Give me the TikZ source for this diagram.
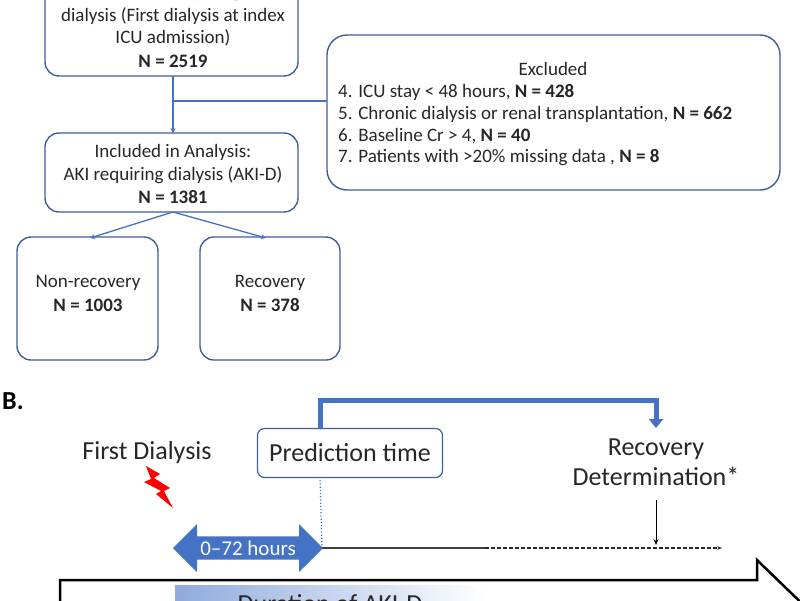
\documentclass[tikz,border=0pt]{standalone}
\usepackage{fontspec}
\setmainfont{Carlito}
\usetikzlibrary{arrows.meta,shapes.arrows}
\definecolor{bl}{HTML}{4472C4}
\definecolor{bd}{HTML}{3F5E9A}
\definecolor{tx}{HTML}{262626}
\begin{document}
\begin{tikzpicture}[x=1pt,y=-1pt,
 box/.style={draw=bd,line width=1.4pt,rounded corners=14pt,text=tx},
 ln/.style={draw=bl,line width=1.3pt},
 t/.style={text=tx,font=\fontsize{19}{22}\selectfont,inner sep=0},
 tbf/.style={text=tx,font=\fontsize{19}{22}\selectfont\bfseries,inner sep=0},
 tb/.style={text=tx,font=\fontsize{26}{30}\selectfont,inner sep=0}]
\useasboundingbox (0,0) rectangle (800,600);
\clip (0,0) rectangle (800,600);
% top box
\draw[box] (45,-40) rectangle (298,76);
\node[t] (t0) at (173,-7) {Patients requiring};
\node[t] (t1) at (173,16) {dialysis (First dialysis at index};
\node[t] (t2) at (173,38) {ICU admission)};
\node[tbf] (t3) at (173,61) {N = 2519};
\coordinate (topb) at (173,76);
% excluded
\draw[box,rounded corners=20pt] (327,35) rectangle (780,190);
\coordinate (exl) at (327,101);
\coordinate (j) at (173,101);
\node[t] (ex) at (553,69) {Excluded};
\node[t,anchor=west] at (338,92) {4. ICU stay < 48 hours, \textbf{N = 428}};
\node[t,anchor=west] at (338,114) {5. Chronic dialysis or renal transplantation, \textbf{N = 662}};
\node[t,anchor=west] at (338,136) {6. Baseline Cr > 4, \textbf{N = 40}};
\node[t,anchor=west] at (338,158) {7. Patients with >20\% missing data , \textbf{N = 8}};
% included
\draw[box] (45,133) rectangle (298,212);
\coordinate (inT) at (173,133);
\coordinate (inB) at (173,212);
\node[t] at (173,152) {Included in Analysis:};
\node[t] at (173,175) {AKI requiring dialysis (AKI-D)};
\node[tbf] at (173,197) {N = 1381};
\draw[ln] (topb) -- (j) -- (exl);
\draw[ln,-{Stealth[length=5pt,width=5pt]}] (j) -- (inT);
% outcome boxes
\draw[box] (17,237) rectangle (158,360);
\draw[box] (200,237) rectangle (340,360);
\coordinate (nrT) at (90,238);
\coordinate (rT) at (266,238);
\node[t] at (88,283) {Non-recovery};
\node[tbf] at (88,305) {N = 1003};
\node[t] at (270,283) {Recovery};
\node[tbf] at (270,305) {N = 378};
\draw[ln,-{Stealth[length=5pt,width=5pt]}] (inB) -- (nrT);
\draw[ln,-{Stealth[length=5pt,width=5pt]}] (inB) -- (rT);
% panel B
\node[text=black,font=\fontsize{26}{28}\selectfont\bfseries,anchor=west,inner sep=0] (B) at (2,401) {B.};
\node[tb] (fd) at (147,453) {First Dialysis};
\fill[red] (146,466) -- (160,474) -- (154,478) -- (170,488) -- (164,491) -- (173,508) -- (156,494) -- (161,491) -- (144,482) -- (151,479) -- cycle;
\node[tb,draw=bd,line width=1.2pt,rounded corners=7pt,minimum width=185pt,minimum height=49pt,fill=white] (pt) at (350,453) {Prediction time};
\coordinate (ptTop) at (320,428);
\coordinate (rdTop) at (656,428);
\draw[draw=bl,line width=5pt,-{Triangle[length=9pt,width=14pt]}] (ptTop) -- (320,400) -- (656,400) -- (rdTop);
\node[tb,align=center] (rd) at (656,462) {Recovery\\[0pt]Determination*};
\coordinate (ptBot) at (320,477);
\coordinate (axA) at (322,548);
\draw[bl,line width=1.2pt,dotted] (ptBot) -- (axA);
\node[single arrow,double arrow,fill=bl,text=white,font=\fontsize{21}{23}\selectfont,minimum height=150pt,minimum width=48pt,double arrow head extend=9pt,inner sep=1pt] (dur) at (248,548) {0–72 hours};
\coordinate (axB) at (485,548);
\coordinate (axC) at (722,548);
\draw[black!75,line width=1.6pt] (axA) -- (axB);
\draw[black!85,line width=1.3pt,dash pattern=on 4pt off 2pt,-{Stealth[length=5pt]}] (axB) -- (axC);
\coordinate (rdA) at (656,500);
\coordinate (rdB) at (656,545);
\draw[black,line width=0.9pt,-{Stealth[length=6pt,width=5pt]}] (rdA) -- (rdB);
% big arrow
\draw[black,line width=2.5pt] (60,650) -- (60,580) -- (757,580) -- (757,560) -- (850,650);
\shade[left color=bl!60,right color=white] (175,585) rectangle (485,620);
\node[tb] (dk) at (330,604) {Duration of AKI-D};
\end{tikzpicture}
\end{document}
